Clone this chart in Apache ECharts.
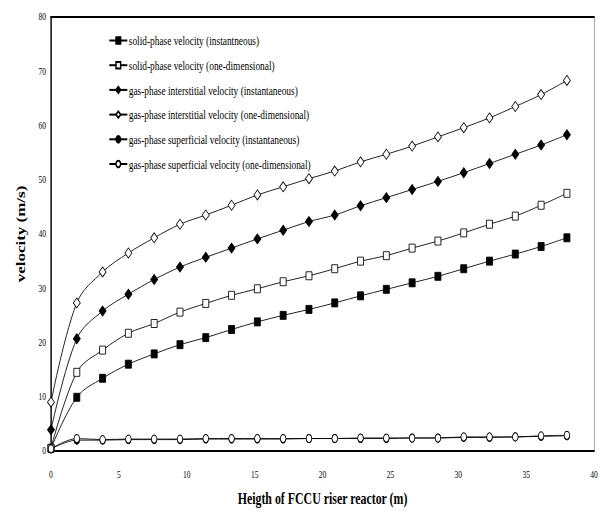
<!DOCTYPE html>
<html>
<head>
<meta charset="utf-8">
<script src="https://cdn.jsdelivr.net/npm/echarts@6/dist/echarts.min.js"></script>
<style>
html,body{margin:0;padding:0;background:#fff;overflow:hidden;width:600px;height:512px;}
#c{position:absolute;left:0;top:0;height:512px;transform-origin:0 0;}
</style>
</head>
<body>
<div id="c"></div>
<script>
// ---- data ----
const heights = [0, 1.9, 3.8, 5.7, 7.6, 9.5, 11.4, 13.3, 15.2, 17.1, 19, 20.9, 22.8, 24.7, 26.6, 28.5, 30.4, 32.3, 34.2, 36.1, 38];
const solidInst = [0.5, 9.9, 13.4, 16.0, 17.9, 19.6, 20.9, 22.4, 23.8, 25.0, 26.1, 27.3, 28.6, 29.8, 31.0, 32.2, 33.6, 35.0, 36.3, 37.7, 39.3];
const solid1D = [0.5, 14.5, 18.6, 21.7, 23.5, 25.6, 27.2, 28.7, 29.9, 31.2, 32.3, 33.6, 35.0, 36.0, 37.4, 38.7, 40.2, 41.8, 43.3, 45.3, 47.5];
const gasIntInst = [3.9, 20.7, 25.8, 28.9, 31.6, 33.9, 35.7, 37.4, 39.1, 40.7, 42.3, 43.5, 45.2, 46.7, 48.2, 49.7, 51.3, 53.0, 54.7, 56.4, 58.3];
const gasInt1D = [9.0, 27.3, 33.0, 36.5, 39.3, 41.8, 43.5, 45.3, 47.2, 48.7, 50.2, 51.6, 53.3, 54.7, 56.2, 57.9, 59.6, 61.4, 63.5, 65.7, 68.3];
const gasSupInst = [0.4, 2.0, 2.0, 2.1, 2.1, 2.1, 2.2, 2.2, 2.2, 2.2, 2.3, 2.3, 2.3, 2.3, 2.4, 2.4, 2.5, 2.5, 2.6, 2.7, 2.8];
const gasSup1D = [0.4, 2.3, 2.1, 2.2, 2.2, 2.2, 2.3, 2.3, 2.3, 2.3, 2.3, 2.3, 2.4, 2.4, 2.4, 2.4, 2.6, 2.6, 2.6, 2.8, 2.9];
const seriesNames = [
  'solid-phase velocity (instantneous)',
  'solid-phase velocity (one-dimensional)',
  'gas-phase interstitial velocity (instantaneous)',
  'gas-phase interstitial velocity (one-dimensional)',
  'gas-phase superficial velocity (instantaneous)',
  'gas-phase superficial velocity (one-dimensional)'
];
const xTitle = 'Heigth of FCCU riser reactor (m)';
const yTitle = 'velocity (m/s)';

// ---- layout ----
const S = 0.72;              // horizontal compression of the original figure
const W = 600 / S;
const el = document.getElementById('c');
el.style.width = W + 'px';
el.style.transform = 'scaleX(' + S + ')';
const FONT = '"Liberation Serif","Times New Roman",serif';

const chart = echarts.init(el, null, {renderer: 'svg', width: W, height: 512});

function pairs(arr){ return heights.map((h,i)=>[h, arr[i]]); }

const styles = [
  {symbol:'rect', size:[6/S, 8], fill:'#000'},
  {symbol:'rect', size:[6/S, 8], fill:'#fff'},
  {symbol:'diamond', size:[7/S, 10], fill:'#000'},
  {symbol:'diamond', size:[7/S, 10], fill:'#fff'},
  {symbol:'circle', size:[5.5/S, 8], fill:'#000'},
  {symbol:'circle', size:[5.5/S, 8], fill:'#fff'}
];
const datasets = [solidInst, solid1D, gasIntInst, gasInt1D, gasSupInst, gasSup1D];

const series = datasets.map((d,i)=>({
  name: seriesNames[i],
  type: 'line',
  data: pairs(d),
  smooth: 0.35,
  symbol: styles[i].symbol,
  symbolSize: styles[i].size,
  showAllSymbol: true,
  lineStyle: {color:'#000', width:1},
  itemStyle: {color: styles[i].fill, borderColor:'#000', borderWidth:1},
  emphasis: {disabled:true},
  animation: false,
  z: 2 + i
}));

const gridLeft = 51 / S;
const gridRight = W - 598 / S;

chart.setOption({
  animation: false,
  backgroundColor: '#fff',
  grid: {left: gridLeft, right: gridRight, top: 17, bottom: 59, containLabel: false},
  legend: {
    orient: 'vertical',
    left: 105 / S,
    top: 29,
    itemWidth: 18 / S,
    itemHeight: 8,
    itemGap: 11.7,
    data: seriesNames,
    textStyle: {fontFamily: FONT, fontSize: 13, color: '#000', padding: [0,0,0,-3]},
    selectedMode: false
  },
  xAxis: [{
    type: 'value', min: 0, max: 40, interval: 5, position: 'bottom',
    axisLine: {show: true, lineStyle: {color:'#000', width: 2}},
    axisTick: {show: false},
    splitLine: {show: false},
    axisLabel: {fontFamily: FONT, fontSize: 10.5, color: '#000', margin: 18},
    name: xTitle, nameLocation: 'middle', nameGap: 39,
    nameTextStyle: {fontFamily: FONT, fontSize: 16.5, fontWeight: 'bold', color: '#000'}
  }, {
    type: 'value', min: 0, max: 40, interval: 5, position: 'top',
    axisLine: {show: true, onZero: false, lineStyle: {color:'#000', width: 2}},
    axisTick: {show: false}, axisLabel: {show: false}, splitLine: {show: false}
  }],
  yAxis: [{
    type: 'value', min: 0, max: 80, interval: 10, position: 'left',
    axisLine: {show: true, lineStyle: {color:'#000', width: 2}},
    axisTick: {show: false},
    splitLine: {show: false},
    axisLabel: {fontFamily: FONT, fontSize: 10.5, color: '#000', margin: 7},
    name: yTitle, nameLocation: 'middle', nameGap: 33,
    nameTextStyle: {fontFamily: FONT, fontSize: 17, fontWeight: 'bold', color: '#000'}
  }, {
    type: 'value', min: 0, max: 80, interval: 10, position: 'right',
    axisLine: {show: true, onZero: false, lineStyle: {color:'#999', width: 1.2}},
    axisTick: {show: false}, axisLabel: {show: false}, splitLine: {show: false}
  }],
  series: series
});
</script>
</body>
</html>
